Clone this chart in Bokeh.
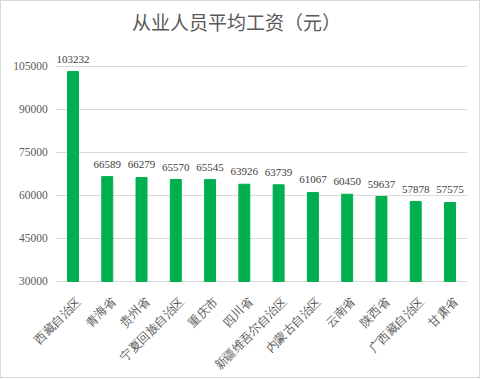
import math
from bokeh.plotting import figure
from bokeh.models import ColumnDataSource, LabelSet, Range1d, Label
from bokeh.embed import file_html
from bokeh.resources import INLINE

title_text = "从业人员平均工资（元）"
regions = ["西藏自治区", "青海省", "贵州省", "宁夏回族自治区", "重庆市", "四川省",
           "新疆维吾尔自治区", "内蒙古自治区", "云南省", "陕西省", "广西藏自治区", "甘肃省"]
wages = [103232, 66589, 66279, 65570, 65545, 63926, 63739, 61067, 60450, 59637, 57878, 57575]
y_ticks = [30000, 45000, 60000, 75000, 90000, 105000]
axis_base = 30000

n = len(regions)
pos = list(range(n))
src = ColumnDataSource(dict(x=pos, y=wages, lbl=[str(v) for v in wages],
                            name=regions, base=[axis_base] * n))
grid = ColumnDataSource(dict(y=y_ticks, lbl=[str(t) for t in y_ticks],
                             x0=[-0.5] * len(y_ticks), x1=[n - 0.5] * len(y_ticks)))

W, H = 480, 378
p = figure(width=W, height=H, x_range=Range1d(-2.086, n - 0.08),
           y_range=Range1d(-4186, 127673),
           output_backend="svg", toolbar_location=None,
           min_border_left=0, min_border_right=0, min_border_top=0, min_border_bottom=0)
p.styles = {"border": "1px solid #d9d9d9"}
p.outline_line_color = None
p.axis.visible = False
p.grid.visible = False

p.segment(x0="x0", x1="x1", y0="y", y1="y", source=grid, line_color="#d9d9d9", line_width=1)
p.vbar(x="x", top="y", bottom=axis_base, width=0.32, source=src, color="#00b050")

ytl = LabelSet(x="x0", y="y", text="lbl", source=grid, text_align="right",
               text_baseline="middle", x_offset=-8, text_font_size="11.5px",
               text_color="#595959", text_font="Liberation Sans")
p.add_layout(ytl)

labels = LabelSet(x="x", y="y", text="lbl", source=src, text_align="center",
                  text_baseline="bottom", y_offset=9, text_font_size="11px",
                  text_color="#404040", text_font="Liberation Sans")
p.add_layout(labels)

cat_labels = LabelSet(x="x", y="base", text="name", source=src, angle=math.pi / 4,
                      text_align="right", text_baseline="middle", x_offset=6, y_offset=-18,
                      text_font_size="12px", text_color="#595959",
                      text_font="Noto Sans CJK SC")
p.add_layout(cat_labels)

title = Label(x=235, y=H - 20, x_units="screen", y_units="screen", text=title_text,
              text_align="center", text_baseline="middle", text_font="Noto Sans CJK SC",
              text_font_size="19px", text_color="#595959")
p.add_layout(title)

open("out.html", "w").write(file_html(p, INLINE))
